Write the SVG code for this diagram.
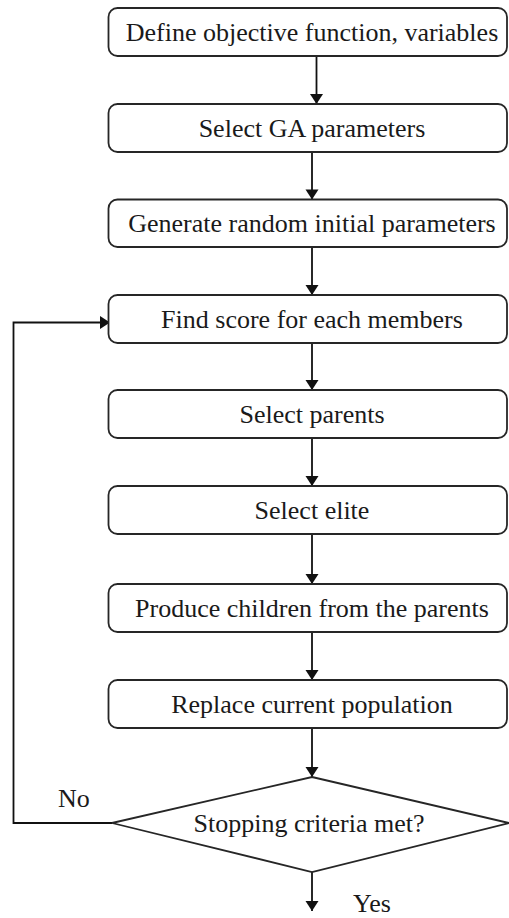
<svg xmlns="http://www.w3.org/2000/svg" width="509" height="918" viewBox="0 0 509 918">
<style>
.box{fill:#fff;stroke:#262626;stroke-width:1.8}
.t{font-family:"Liberation Serif","Times New Roman",serif;font-size:26px;fill:#1a1a1a;text-anchor:middle}
.l{font-family:"Liberation Serif","Times New Roman",serif;font-size:26px;fill:#1a1a1a}
.c{fill:none;stroke:#111;stroke-width:1.8}
</style>
<defs>
<marker id="ah" markerUnits="userSpaceOnUse" markerWidth="14" markerHeight="14" viewBox="0 0 14 14" refX="12" refY="7" orient="auto">
<path d="M2,0.5 L12,7 L2,13.5 Z" fill="#111"/>
</marker>
</defs>
<rect width="509" height="918" fill="#fff"/>
<g id="connectors">
<line class="c" x1="316.5" y1="56" x2="316.5" y2="104" marker-end="url(#ah)"/>
<line class="c" x1="312" y1="152" x2="312" y2="199.5" marker-end="url(#ah)"/>
<line class="c" x1="312" y1="247" x2="312" y2="295" marker-end="url(#ah)"/>
<line class="c" x1="312" y1="343" x2="312" y2="390" marker-end="url(#ah)"/>
<line class="c" x1="312" y1="438" x2="312" y2="486" marker-end="url(#ah)"/>
<line class="c" x1="312" y1="534" x2="312" y2="584" marker-end="url(#ah)"/>
<line class="c" x1="312" y1="632" x2="312" y2="680" marker-end="url(#ah)"/>
<line class="c" x1="312" y1="728" x2="312" y2="777" marker-end="url(#ah)"/>
<line class="c" x1="312" y1="872" x2="312" y2="911" marker-end="url(#ah)"/>
<polyline class="c" points="112,823 13.5,823 13.5,322.5 110,322.5" marker-end="url(#ah)"/>
<text class="l" x="353" y="912">Yes</text>
<text class="l" x="58" y="807">No</text>
</g>
<g id="n1"><rect class="box" x="108.5" y="8" width="398.5" height="48" rx="9"/><text class="t" x="312" y="41">Define objective function, variables</text></g>
<g id="n2"><rect class="box" x="108.5" y="104" width="398.5" height="48" rx="9"/><text class="t" x="312" y="137">Select GA parameters</text></g>
<g id="n3"><rect class="box" x="108.5" y="199.5" width="398.5" height="47.5" rx="9"/><text class="t" x="312" y="232">Generate random initial parameters</text></g>
<g id="n4"><rect class="box" x="108.5" y="295" width="398.5" height="48" rx="9"/><text class="t" x="312" y="328">Find score for each members</text></g>
<g id="n5"><rect class="box" x="108.5" y="390" width="398.5" height="48" rx="9"/><text class="t" x="312" y="423">Select parents</text></g>
<g id="n6"><rect class="box" x="108.5" y="486" width="398.5" height="48" rx="9"/><text class="t" x="312" y="519">Select elite</text></g>
<g id="n7"><rect class="box" x="108.5" y="584" width="398.5" height="48" rx="9"/><text class="t" x="312" y="617">Produce children from the parents</text></g>
<g id="n8"><rect class="box" x="108.5" y="680" width="398.5" height="48" rx="9"/><text class="t" x="312" y="713">Replace current population</text></g>
<g id="n9"><polygon class="box" points="312,777 509,823 312,872 112,823"/><text class="t" x="309" y="832">Stopping criteria met?</text></g>
</svg>
